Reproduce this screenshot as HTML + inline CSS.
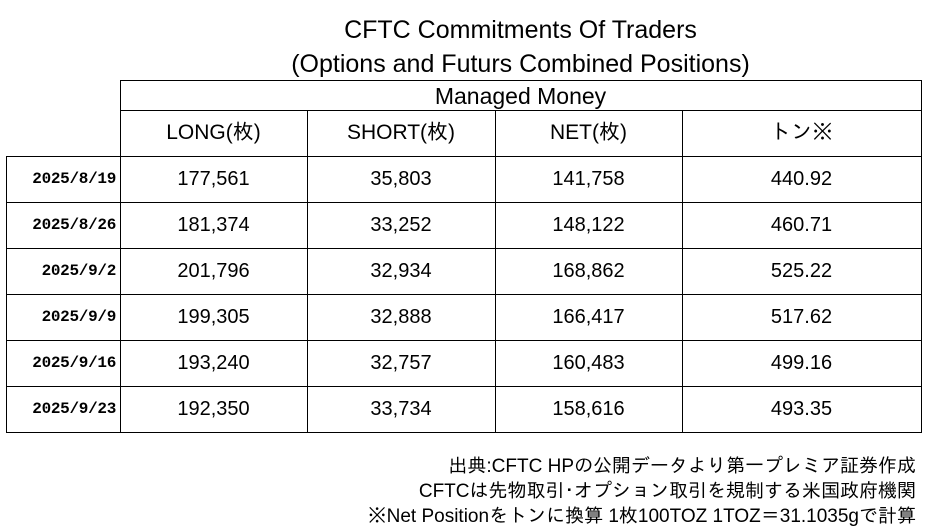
<!DOCTYPE html>
<html><head><meta charset="utf-8"><style>
body{margin:0;width:932px;height:528px;background:#fff;position:relative;overflow:hidden;font-family:"Liberation Sans Narrow","Liberation Sans","IPAGothic",sans-serif;color:#000}
.t{position:absolute;white-space:nowrap}
.c{position:absolute;text-align:center;white-space:nowrap}
.l{position:absolute;background:#000}
</style></head><body>
<div class="c" style="left:120px;width:801px;top:16px;font-size:25px">CFTC Commitments Of Traders</div>
<div class="c" style="left:120px;width:801px;top:50px;font-size:25px">(Options and Futurs Combined Positions)</div>
<div class="l" style="left:120px;top:80px;width:802px;height:1px"></div>
<div class="l" style="left:120px;top:110px;width:802px;height:1px"></div>
<div class="l" style="left:6px;top:156px;width:916px;height:1px"></div>
<div class="l" style="left:6px;top:202px;width:916px;height:1px"></div>
<div class="l" style="left:6px;top:248px;width:916px;height:1px"></div>
<div class="l" style="left:6px;top:294px;width:916px;height:1px"></div>
<div class="l" style="left:6px;top:340px;width:916px;height:1px"></div>
<div class="l" style="left:6px;top:386px;width:916px;height:1px"></div>
<div class="l" style="left:6px;top:432px;width:916px;height:1px"></div>
<div class="l" style="left:6px;top:156px;width:1px;height:277px"></div>
<div class="l" style="left:120px;top:80px;width:1px;height:353px"></div>
<div class="l" style="left:921px;top:80px;width:1px;height:353px"></div>
<div class="l" style="left:307px;top:110px;width:1px;height:323px"></div>
<div class="l" style="left:495px;top:110px;width:1px;height:323px"></div>
<div class="l" style="left:682px;top:110px;width:1px;height:323px"></div>
<div class="c" style="left:120px;width:801px;top:83px;font-size:23px">Managed Money</div>
<div class="c" style="left:120px;width:187px;top:121px;font-size:21px">LONG(枚)</div>
<div class="c" style="left:307px;width:188px;top:121px;font-size:21px">SHORT(枚)</div>
<div class="c" style="left:495px;width:187px;top:121px;font-size:21px">NET(枚)</div>
<div class="c" style="left:682px;width:239px;top:121px;font-size:21px">トン※</div>
<div id="rows"></div>
<script>
var d=[["2025/8/19","177,561","35,803","141,758","440.92"],["2025/8/26","181,374","33,252","148,122","460.71"],["2025/9/2","201,796","32,934","168,862","525.22"],["2025/9/9","199,305","32,888","166,417","517.62"],["2025/9/16","193,240","32,757","160,483","499.16"],["2025/9/23","192,350","33,734","158,616","493.35"]];
var h="";d.forEach(function(r,i){var y=156+46*i+12;
h+='<div class="t" style="right:816px;top:'+(y+2)+'px;font-size:16px;font-weight:bold;font-family:\'Liberation Mono\',monospace;letter-spacing:-0.3px">'+r[0]+'</div>';
h+='<div class="c" style="left:120px;width:187px;top:'+y+'px;font-size:20px">'+r[1]+'</div>';
h+='<div class="c" style="left:307px;width:188px;top:'+y+'px;font-size:20px">'+r[2]+'</div>';
h+='<div class="c" style="left:495px;width:187px;top:'+y+'px;font-size:20px">'+r[3]+'</div>';
h+='<div class="c" style="left:682px;width:239px;top:'+y+'px;font-size:20px">'+r[4]+'</div>';});
document.getElementById("rows").innerHTML=h;
</script>
<div class="t" style="right:16px;top:456px;font-size:19px">出典:CFTC HPの公開データより第一プレミア証券作成</div>
<div class="t" style="right:16px;top:481px;font-size:19px">CFTCは先物取引･オプション取引を規制する米国政府機関</div>
<div class="t" style="right:16px;top:506px;font-size:19px">※Net Positionをトンに換算 1枚100TOZ 1TOZ＝31.1035gで計算</div>
</body></html>
